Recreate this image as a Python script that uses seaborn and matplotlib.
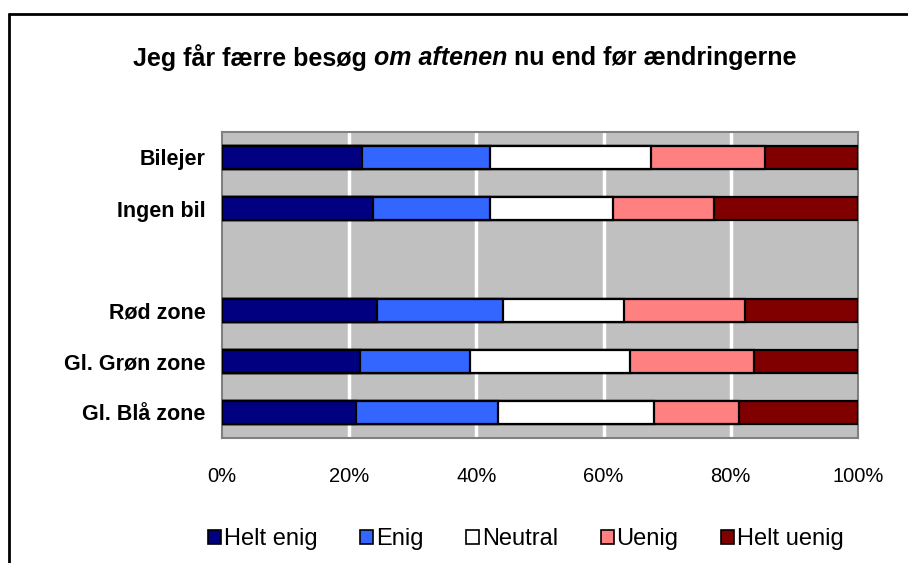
import numpy as np
import pandas as pd
import matplotlib
matplotlib.use('Agg')
import matplotlib.pyplot as plt
import seaborn as sns
from matplotlib.patches import Patch

# Data (percent)
groups = ['Bilejer', 'Ingen bil', '', 'Rød zone', 'Gl. Grøn zone', 'Gl. Blå zone']
answers = ['Helt enig', 'Enig', 'Neutral', 'Uenig', 'Helt uenig']
helt_enig = [22.0, 23.8, np.nan, 24.3, 21.7, 21.1]
enig = [20.1, 18.3, np.nan, 19.9, 17.3, 22.3]
neutral = [25.3, 19.3, np.nan, 19.0, 25.2, 24.5]
uenig = [17.9, 15.9, np.nan, 19.0, 19.5, 13.4]
helt_uenig = [14.7, 22.7, np.nan, 17.8, 16.3, 18.7]
colors = ['#000080', '#3366FF', '#FFFFFF', '#FF8080', '#800000']
x_ticks = [0, 20, 40, 60, 80, 100]

sns.set_theme(style='white')
plt.rcParams['font.family'] = ['Liberation Sans', 'DejaVu Sans']
plt.rcParams['text.color'] = 'black'
plt.rcParams['xtick.color'] = 'black'
plt.rcParams['ytick.color'] = 'black'

df = pd.DataFrame({'group': groups, 'Helt enig': helt_enig, 'Enig': enig,
                   'Neutral': neutral, 'Uenig': uenig, 'Helt uenig': helt_uenig})
df = df[df['group'] != '']
vals = df[answers].to_numpy()
cum = np.cumsum(vals, axis=1)
cum = cum / cum[:, -1:] * 100

fig = plt.figure(figsize=(9.08, 5.63), dpi=100)
ax = fig.add_axes([222 / 908, 1 - 438 / 563, 636 / 908, 306 / 563])
ax.set_facecolor('#C0C0C0')

# stacked bars: draw cumulative totals from the right, each one on top
for i in range(len(answers) - 1, -1, -1):
    d = pd.DataFrame({'group': df['group'].values, 'val': cum[:, i]})
    sns.barplot(data=d, x='val', y='group', order=groups, color=colors[i],
                saturation=1, edgecolor='black', linewidth=1.6, width=0.45,
                orient='h', ax=ax, zorder=3)

ax.set_xlim(0, 100)
ax.set_ylim(5.5, -0.5)
ax.set_xticks(x_ticks)
ax.set_xticklabels([f'{t}%' for t in x_ticks], fontsize=14.5)
for t in x_ticks[1:-1]:
    ax.axvline(t, color='white', lw=2.5, zorder=1)
ax.tick_params(axis='x', length=0, pad=21)
ax.tick_params(axis='y', length=0, pad=12)
for lab in ax.get_yticklabels():
    lab.set_fontweight('bold')
    lab.set_fontsize(15.5)
ax.set_xlabel('')
ax.set_ylabel('')
for s in ax.spines.values():
    s.set_color('#808080')
    s.set_linewidth(1.5)
    s.set_visible(True)

# Title with italic middle part
parts = [('Jeg får færre besøg ', 'normal'), ('om aftenen', 'italic'),
         (' nu end før ændringerne', 'normal')]
fig.canvas.draw()
r = fig.canvas.get_renderer()
texts = []
for s, st in parts:
    t = fig.text(0, 1 - 58 / 563, s, fontsize=18, fontweight='bold', style=st,
                 va='center', ha='left')
    texts.append(t)
widths = [t.get_window_extent(r).width for t in texts]
x0 = 465 - sum(widths) / 2
for t, w in zip(texts, widths):
    t.set_x(x0 / 908)
    x0 += w

handles = [Patch(facecolor=c, edgecolor='black', linewidth=1.2) for c in colors]
fig.legend(handles, answers, loc='center', bbox_to_anchor=(526 / 908, 1 - 539 / 563),
           ncol=5, frameon=False, fontsize=17, handlelength=0.55, handleheight=0.55,
           handletextpad=0.12, columnspacing=1.8)

# outer frame lines (left and top)
fig.add_artist(plt.Line2D([9 / 908, 9 / 908], [0, 1 - 14 / 563], color='black', lw=2,
                          transform=fig.transFigure))
fig.add_artist(plt.Line2D([9 / 908, 1], [1 - 14 / 563, 1 - 14 / 563], color='black', lw=2,
                          transform=fig.transFigure))

fig.savefig('out.png', dpi=100)
